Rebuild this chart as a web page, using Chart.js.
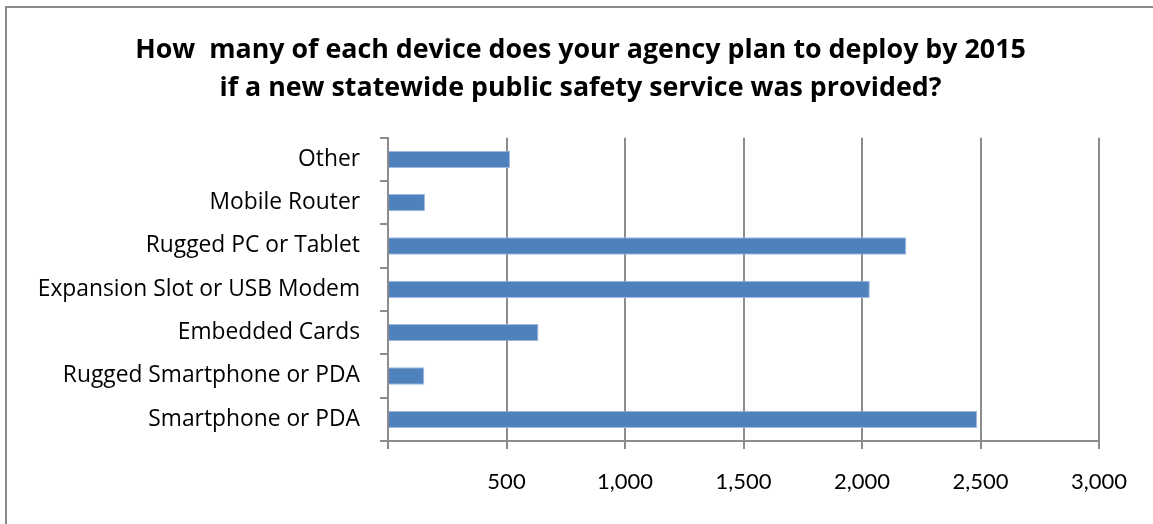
<!DOCTYPE html>
<html lang="en">
<head>
    <meta charset="UTF-8">
    <title>Planned Device Deployment by 2015</title>
    <script src="https://cdn.jsdelivr.net/npm/chart.js"></script>
    <style>
        body {
            margin: 0;
            overflow: hidden;
            background: #fff;
        }
        .frame {
            position: absolute;
            left: 5px;
            top: 6px;
            width: 1200px;
            height: 600px;
            border: 2px solid #8a8a8a;
        }
        .chart-container {
            position: absolute;
            left: 0;
            top: 0;
            width: 1153px;
            height: 524px;
        }
    </style>
</head>
<body>
    <div class="frame"></div>
    <div class="chart-container">
        <canvas id="deviceChart"></canvas>
    </div>

    <script>
        // Data
        const categories = [
            "Other",
            "Mobile Router",
            "Rugged PC or Tablet",
            "Expansion Slot or USB Modem",
            "Embedded Cards",
            "Rugged Smartphone or PDA",
            "Smartphone or PDA"
        ];
        const deviceCounts = [515, 156, 2187, 2033, 635, 153, 2486];
        const tickValues = [500, 1000, 1500, 2000, 2500, 3000];

        const titleLines = [
            "How  many of each device does your agency plan to deploy by 2015",
            "if a new statewide public safety service was provided?"
        ];

        const gridGray = "#8c8c8c";

        // the title in the original is centred on the whole frame, not on the plot
        const shiftTitle = {
            id: "shiftTitle",
            afterLayout(chart) {
                const t = chart.titleBlock;
                if (t) {
                    t.left += 31;
                    t.right += 31;
                }
            }
        };

        const ctx = document.getElementById("deviceChart").getContext("2d");
        new Chart(ctx, {
            type: "bar",
            data: {
                labels: categories,
                datasets: [{
                    label: "Devices",
                    data: deviceCounts,
                    backgroundColor: "#4f81bd",
                    borderColor: "#9dbbe0",
                    borderWidth: 1,
                    barPercentage: 0.4,
                    categoryPercentage: 1.0
                }]
            },
            plugins: [shiftTitle],
            options: {
                indexAxis: "y",
                responsive: true,
                maintainAspectRatio: false,
                animation: false,
                layout: {
                    padding: { left: 0, right: 54, top: 0, bottom: 0 }
                },
                plugins: {
                    legend: { display: false },
                    tooltip: { enabled: false },
                    title: {
                        display: true,
                        text: titleLines,
                        color: "#000",
                        font: { family: "'Open Sans', sans-serif", size: 26.8, weight: "bold", lineHeight: 1.43 },
                        padding: { top: 31, bottom: 30 }
                    }
                },
                scales: {
                    x: {
                        min: 0,
                        max: 3000,
                        afterFit: (scale) => { scale.height = 83; },
                        afterBuildTicks: (scale) => {
                            scale.ticks = [0, ...tickValues].map(v => ({ value: v }));
                        },
                        ticks: {
                            color: "#000",
                            font: { family: "Lato, sans-serif", size: 22 },
                            padding: 20,
                            maxRotation: 0,
                            callback: (v) => v === 0 ? "" : v.toLocaleString("en-US")
                        },
                        grid: {
                            color: gridGray,
                            lineWidth: 2,
                            tickLength: 8
                        },
                        border: { color: gridGray, width: 2 }
                    },
                    y: {
                        afterFit: (scale) => { scale.width = 388; },
                        ticks: {
                            color: "#000",
                            font: { family: "'Open Sans', sans-serif", size: 22.8 },
                            padding: 20
                        },
                        grid: {
                            drawOnChartArea: false,
                            color: gridGray,
                            lineWidth: 2,
                            tickLength: 8
                        },
                        border: { color: gridGray, width: 2 }
                    }
                }
            }
        });
    </script>
</body>
</html>
